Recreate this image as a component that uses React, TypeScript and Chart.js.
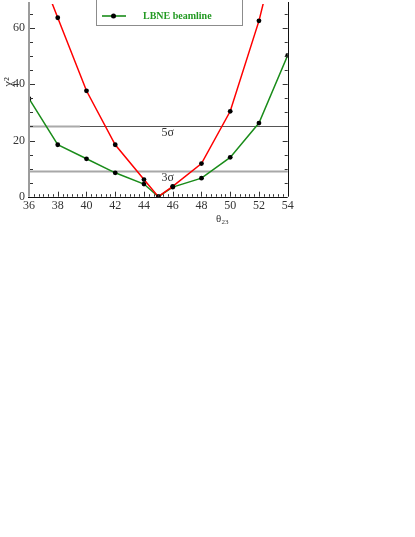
import React, { useEffect, useRef } from "react";
import { Chart, registerables } from "chart.js";

Chart.register(...registerables);

// ---- data ----
const thetaValues = [36, 38, 40, 42, 44, 45, 46, 48, 50, 52, 54];
const redChi2 = [90, 63.7, 37.7, 18.5, 6.1, 0, 3.7, 11.8, 30.4, 62.6, 104];
const greenChi2 = [34.9, 18.5, 13.5, 8.5, 4.5, 0, 3.4, 6.6, 14.0, 26.2, 50.3];
const xTickLabels = [36, 38, 40, 42, 44, 46, 48, 50, 52, 54];
const yTickLabels = [0, 20, 40, 60];
const sigmaLevels = [25, 9];
const sigmaLabels = ["5σ", "3σ"];
const seriesLabels = ["", "LBNE beamline"];

// ---- layout / style ----
const W = 415;
const H = 537;
const PLOT_LEFT = 29;
const PLOT_RIGHT = 287.7;
const PLOT_BOTTOM = 196.7;
const X_MIN = 36;
const X_MAX = 54;
const Y_MIN = 0;
const Y_MAX = 68.6;
const SERIF = "'Liberation Serif', 'DejaVu Serif', serif";
const RED = "#ff0000";
const GREEN = "#1a8c1a";

const framePlugin = {
  id: "frame",
  beforeDatasetsDraw(chart: any) {
    const { ctx, chartArea, scales } = chart;
    const { left, right } = chartArea;
    const xs = scales.x;
    const ys = scales.y;
    ctx.save();
    sigmaLevels.forEach((lvl, i) => {
      const py = Math.round(ys.getPixelForValue(lvl)) + 0.5;
      if (i === 0) {
        ctx.strokeStyle = "#555";
        ctx.lineWidth = 1;
        ctx.beginPath();
        ctx.moveTo(left, py);
        ctx.lineTo(right, py);
        ctx.stroke();
        ctx.strokeStyle = "#aaa";
        ctx.lineWidth = 1.8;
        ctx.beginPath();
        ctx.moveTo(left, py);
        ctx.lineTo(xs.getPixelForValue(39.55), py);
        ctx.stroke();
      } else {
        ctx.strokeStyle = "#a8a8a8";
        ctx.lineWidth = 1.8;
        ctx.beginPath();
        ctx.moveTo(left, py);
        ctx.lineTo(right, py);
        ctx.stroke();
      }
      ctx.fillStyle = "#333";
      ctx.font = `12px ${SERIF}`;
      ctx.textAlign = "center";
      ctx.textBaseline = "top";
      ctx.fillText(sigmaLabels[i], xs.getPixelForValue(45.65), py + 0.5);
    });
    ctx.restore();
  },
  afterDatasetsDraw(chart: any) {
    const { ctx, chartArea, scales } = chart;
    const { left, right, top, bottom } = chartArea;
    const xs = scales.x;
    const ys = scales.y;
    ctx.save();

    // left axis (gray), bottom & right axes (black)
    ctx.strokeStyle = "#9c9c9c";
    ctx.lineWidth = 2;
    ctx.beginPath();
    ctx.moveTo(left, top - 2);
    ctx.lineTo(left, bottom);
    ctx.stroke();

    ctx.strokeStyle = "#111";
    ctx.lineWidth = 1;
    ctx.beginPath();
    ctx.moveTo(left - 1, Math.round(bottom) + 0.5);
    ctx.lineTo(right, Math.round(bottom) + 0.5);
    ctx.moveTo(Math.round(right) + 0.5, bottom);
    ctx.lineTo(Math.round(right) + 0.5, top - 2);
    ctx.stroke();

    // y ticks (inward) every 5, major every 20
    ctx.strokeStyle = "#333";
    ctx.lineWidth = 1;
    ctx.beginPath();
    for (let v = 5; v <= Y_MAX; v += 5) {
      const py = Math.round(ys.getPixelForValue(v)) + 0.5;
      const len = v % 20 === 0 ? 5 : 3;
      ctx.moveTo(left + 1, py);
      ctx.lineTo(left + 1 + len, py);
      ctx.moveTo(right, py);
      ctx.lineTo(right - len, py);
    }
    // x ticks (inward) every 1/3, major every 2
    for (let k = 1; k < (X_MAX - X_MIN) * 3; k++) {
      const v = X_MIN + k / 3;
      const px = Math.round(xs.getPixelForValue(v)) + 0.5;
      const len = k % 6 === 0 ? 5 : 2.5;
      ctx.moveTo(px, bottom);
      ctx.lineTo(px, bottom - len);
    }
    ctx.stroke();

    // axis titles
    ctx.fillStyle = "#333";
    ctx.save();
    ctx.translate(9, 82);
    ctx.rotate(-Math.PI / 2);
    ctx.font = `13px ${SERIF}`;
    ctx.textAlign = "center";
    ctx.textBaseline = "middle";
    ctx.fillText("χ²", 0, 0);
    ctx.restore();

    ctx.font = `11px ${SERIF}`;
    ctx.textAlign = "left";
    ctx.textBaseline = "alphabetic";
    ctx.fillText("θ", 216, 222);
    ctx.font = `7px ${SERIF}`;
    ctx.fillText("23", 221.5, 224);

    // legend (box extends above the visible area)
    const bx0 = 96.5;
    const bx1 = 242.5;
    const by1 = 25.5;
    ctx.fillStyle = "#fff";
    ctx.fillRect(bx0, -40, bx1 - bx0, by1 + 40);
    ctx.strokeStyle = "#8c8c8c";
    ctx.lineWidth = 1;
    ctx.strokeRect(bx0, -40, bx1 - bx0, by1 + 40);
    ctx.strokeStyle = GREEN;
    ctx.lineWidth = 1.6;
    ctx.beginPath();
    ctx.moveTo(102, 16);
    ctx.lineTo(126, 16);
    ctx.stroke();
    ctx.fillStyle = "#000";
    ctx.beginPath();
    ctx.arc(113.5, 16, 2.5, 0, Math.PI * 2);
    ctx.fill();
    ctx.fillStyle = "#229922";
    ctx.font = `bold 10px ${SERIF}`;
    ctx.textAlign = "left";
    ctx.textBaseline = "middle";
    ctx.fillText(seriesLabels[1], 143, 16.5);

    ctx.restore();
  },
};

export default function App() {
  const canvasRef = useRef<HTMLCanvasElement | null>(null);

  useEffect(() => {
    const canvas = canvasRef.current;
    if (!canvas) return;
    const tickFont = { family: SERIF, size: 12 };
    const chart = new Chart(canvas, {
      type: "line",
      data: {
        datasets: [
          {
            label: seriesLabels[0],
            data: thetaValues.map((x, i) => ({ x, y: redChi2[i] })),
            borderColor: RED,
            borderWidth: 1.5,
            pointRadius: 2.4,
            pointBackgroundColor: "#000",
            pointBorderColor: "#000",
            pointBorderWidth: 0,
            tension: 0,
            fill: false,
          },
          {
            label: seriesLabels[1],
            data: thetaValues.map((x, i) => ({ x, y: greenChi2[i] })),
            borderColor: GREEN,
            borderWidth: 1.5,
            pointRadius: 2.4,
            pointBackgroundColor: "#000",
            pointBorderColor: "#000",
            pointBorderWidth: 0,
            tension: 0,
            fill: false,
          },
        ],
      },
      options: {
        responsive: false,
        animation: false,
        events: [],
        layout: { padding: { left: 0, top: 0, right: W - PLOT_RIGHT, bottom: 0 } },
        plugins: { legend: { display: false }, tooltip: { enabled: false }, title: { display: false } },
        scales: {
          x: {
            type: "linear",
            min: X_MIN,
            max: X_MAX,
            afterBuildTicks: (s: any) => {
              s.ticks = xTickLabels.map((v) => ({ value: v }));
            },
            afterFit: (s: any) => {
              s.height = H - PLOT_BOTTOM;
              s.paddingLeft = 0;
              s.paddingRight = 0;
            },
            grid: { display: false, drawTicks: false },
            border: { display: false },
            ticks: { font: tickFont, color: "#333", padding: 2, maxRotation: 0, autoSkip: false },
          },
          y: {
            type: "linear",
            min: Y_MIN,
            max: Y_MAX,
            afterBuildTicks: (s: any) => {
              s.ticks = yTickLabels.map((v) => ({ value: v }));
            },
            afterFit: (s: any) => {
              s.width = PLOT_LEFT;
              s.paddingTop = 0;
              s.paddingBottom = 0;
            },
            grid: { display: false, drawTicks: false },
            border: { display: false },
            ticks: { font: tickFont, color: "#333", padding: 4, autoSkip: false },
          },
        },
      },
      plugins: [framePlugin],
    });
    return () => chart.destroy();
  }, []);

  return (
    <div style={{ position: "absolute", left: 0, top: 0, width: W, height: H, background: "#fff" }}>
      <canvas ref={canvasRef} width={W} height={H} style={{ display: "block" }} />
    </div>
  );
}
